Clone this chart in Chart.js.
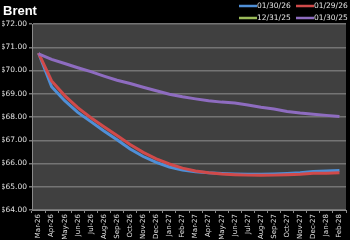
<!DOCTYPE html>
<html>
<head>
<meta charset="utf-8">
<script src="https://cdn.jsdelivr.net/npm/chart.js@4"></script>
<style>
  html, body { margin: 0; padding: 0; background: #000; }
  #wrap { position: relative; width: 350px; height: 240px; }
</style>
</head>
<body>
<div id="wrap"><canvas id="brentChart" width="350" height="240"></canvas></div>
<script>
// Brent forward curves
const months = ['Mar-26', 'Apr-26', 'May-26', 'Jun-26', 'Jul-26', 'Aug-26', 'Sep-26', 'Oct-26',
    'Nov-26', 'Dec-26', 'Jan-27', 'Feb-27', 'Mar-27', 'Apr-27', 'May-27', 'Jun-27', 'Jul-27',
    'Aug-27', 'Sep-27', 'Oct-27', 'Nov-27', 'Dec-27', 'Jan-28', 'Feb-28'];

const curve013026 = [70.75, 69.30, 68.70, 68.20, 67.80, 67.40, 67.02, 66.62, 66.30, 66.05, 65.85, 65.72,
    65.65, 65.60, 65.57, 65.55, 65.54, 65.54, 65.55, 65.57, 65.60, 65.66, 65.68, 65.70];
const curve012926 = [70.75, 69.55, 68.92, 68.40, 67.97, 67.58, 67.20, 66.82, 66.48, 66.20, 65.98, 65.80,
    65.68, 65.60, 65.55, 65.52, 65.50, 65.49, 65.50, 65.52, 65.54, 65.58, 65.58, 65.60];
const curve123125 = []; // not visible in the picture
const curve013025 = [70.72, 70.48, 70.30, 70.12, 69.95, 69.76, 69.58, 69.44, 69.28, 69.13, 68.98, 68.87,
    68.78, 68.70, 68.64, 68.60, 68.52, 68.42, 68.34, 68.24, 68.17, 68.12, 68.07, 68.02];

const seriesLabels = ['01/30/26', '01/29/26', '12/31/25', '01/30/25'];
const seriesColors = ['#4f8fd6', '#d04a4a', '#9bbb59', '#8e6cc0'];

const yMin = 64;
const yMax = 72;

// dark plot area + title + two-row legend like the Excel original
const chartDecor = {
    id: 'chartDecor',
    beforeDraw(chart) {
        const { ctx, chartArea } = chart;
        ctx.save();
        ctx.fillStyle = '#000';
        ctx.fillRect(0, 0, chart.width, chart.height);
        ctx.fillStyle = '#404040';
        ctx.fillRect(chartArea.left, chartArea.top, chartArea.right - chartArea.left, chartArea.bottom - chartArea.top);
        ctx.restore();
    },
    afterDraw(chart) {
        const ctx = chart.ctx;
        ctx.save();
        ctx.fillStyle = '#fff';
        ctx.font = 'bold 13px "Liberation Sans", Arial, sans-serif';
        ctx.textBaseline = 'alphabetic';
        ctx.fillText('Brent', 3, 15);

        ctx.font = '7.5px "DejaVu Sans", sans-serif';
        ctx.textBaseline = 'middle';
        chart.data.datasets.forEach((ds, i) => {
            const x = i % 2 === 0 ? 239 : 296;
            const y = i < 2 ? 6 : 18;
            ctx.strokeStyle = ds.borderColor;
            ctx.lineWidth = 2.5;
            ctx.beginPath();
            ctx.moveTo(x, y);
            ctx.lineTo(x + 18, y);
            ctx.stroke();
            ctx.fillStyle = '#e6e6e6';
            ctx.fillText(ds.label, x + 18, y + 0.5);
        });
        ctx.restore();
    }
};

const seriesData = [curve013026, curve012926, curve123125, curve013025];

new Chart(document.getElementById('brentChart'), {
    type: 'line',
    data: {
        labels: months,
        datasets: seriesLabels.map((label, i) => ({
            label: label,
            data: seriesData[i],
            borderColor: seriesColors[i],
            backgroundColor: seriesColors[i],
            borderWidth: 3,
            pointRadius: 0,
            tension: 0,
            order: 3 - i
        }))
    },
    options: {
        responsive: false,
        animation: false,
        events: [],
        layout: { padding: { top: 24, right: 4, left: 2, bottom: 0 } },
        plugins: {
            legend: { display: false },
            title: { display: false },
            tooltip: { enabled: false }
        },
        scales: {
            x: {
                offset: true,
                afterFit(scale) { scale.height = 30; },
                grid: {
                    offset: true,
                    drawOnChartArea: false,
                    drawTicks: true,
                    tickLength: 3,
                    color: '#8a8a8a'
                },
                border: { color: '#8a8a8a', width: 1 },
                ticks: {
                    color: '#e0e0e0',
                    font: { size: 7, family: '"DejaVu Sans", sans-serif' },
                    minRotation: 90,
                    maxRotation: 90,
                    autoSkip: false,
                    padding: 1
                }
            },
            y: {
                min: yMin,
                max: yMax,
                afterFit(scale) { scale.width = 30; },
                grid: {
                    color: '#747474',
                    lineWidth: 1.5,
                    tickLength: 3
                },
                border: { color: '#8a8a8a', width: 1 },
                ticks: {
                    stepSize: 1,
                    color: '#e0e0e0',
                    padding: 2,
                    font: { size: 7.5, family: '"DejaVu Sans", sans-serif' },
                    callback: v => '$' + v.toFixed(2)
                }
            }
        }
    },
    plugins: [chartDecor]
});
</script>
</body>
</html>
